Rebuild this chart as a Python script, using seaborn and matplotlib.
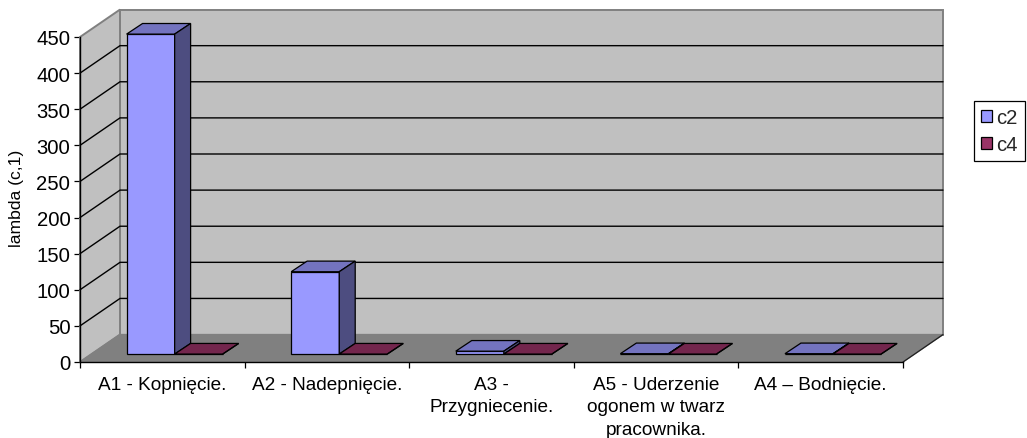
import matplotlib
matplotlib.use("Agg")
import matplotlib.pyplot as plt
from matplotlib.patches import Polygon
from matplotlib.colors import to_rgb
import pandas as pd
import seaborn as sns

categories = ["A1 - Kopnięcie.", "A2 - Nadepnięcie.", "A3 -\nPrzygniecenie.",
              "A5 - Uderzenie\nogonem w twarz\npracownika.", "A4 – Bodnięcie."]
c2_values = [443, 114, 4, 0.5, 0.5]
c4_values = [0, 0, 0, 0, 0]
y_ticks = [0, 50, 100, 150, 200, 250, 300, 350, 400, 450]
y_label = "lambda (c,1)"
series_names = ["c2", "c4"]
series_colors = ["#9999FF", "#993366"]

sns.set_theme(style="white")
plt.rcParams["font.family"] = ["Liberation Sans", "DejaVu Sans"]
FS = 13.7

W, H = 1027, 439
fig = plt.figure(figsize=(W / 100, H / 100), dpi=100, facecolor="white")
ax = fig.add_axes([80 / W, (H - 363) / H, (903 - 80) / W, (363 - 38) / H])

df = pd.DataFrame({
    "cat": categories * 2,
    "val": c2_values + c4_values,
    "series": [series_names[0]] * 5 + [series_names[1]] * 5,
})
sns.barplot(data=df, x="cat", y="val", hue="series", palette=series_colors,
            width=0.584, gap=0, saturation=1, edgecolor="black", linewidth=0.9,
            zorder=5, ax=ax)
ax.set_xlim(-0.5, 4.5)
ax.set_ylim(0, 450)
x0, x1 = ax.get_xlim()
y0, y1 = ax.get_ylim()

# depth of the fake 3-D box and of the bars, in data units
DX, DY = 0.243, 38.0
BAR_X, BAR_Y = 0.075, 11.0
BAR_DX, BAR_DY = 0.097, 14.7

wall = "#C0C0C0"
floor = "#808080"
border = "#808080"
kw = dict(clip_on=False, closed=True)
ax.add_patch(Polygon([(x0 + DX, y0 + DY), (x1 + DX, y0 + DY), (x1 + DX, y1 + DY), (x0 + DX, y1 + DY)],
                     facecolor=wall, edgecolor=border, linewidth=1.4, zorder=0.5, **kw))
ax.add_patch(Polygon([(x0, y0), (x0 + DX, y0 + DY), (x0 + DX, y1 + DY), (x0, y1)],
                     facecolor=wall, edgecolor=border, linewidth=1.4, zorder=0.6, **kw))
ax.add_patch(Polygon([(x0, y0), (x1, y0), (x1 + DX, y0 + DY), (x0 + DX, y0 + DY)],
                     facecolor=floor, edgecolor=floor, linewidth=1.0, zorder=0.7, **kw))
ax.plot([x1, x1 + DX], [y0, y0 + DY], color="#202020", lw=0.9, clip_on=False, zorder=0.8)

for t in y_ticks[1:-1]:
    ax.plot([x0, x0 + DX, x1 + DX], [t, t + DY, t + DY], color="black", lw=1.0,
            clip_on=False, zorder=1, solid_joinstyle="miter")

for i, container in enumerate(ax.containers):
    base = to_rgb(series_colors[i])
    top_c = tuple(c * 0.75 for c in base)
    side_c = tuple(c * 0.5 for c in base)
    for p in container.patches:
        p.set_x(p.get_x() + BAR_X)
        p.set_y(p.get_y() + BAR_Y)
        p.set_clip_on(False)
        l, b, w, h = p.get_x(), p.get_y(), p.get_width(), p.get_height()
        r, t = l + w, b + h
        ax.add_patch(Polygon([(l, t), (r, t), (r + BAR_DX, t + BAR_DY), (l + BAR_DX, t + BAR_DY)],
                             facecolor=top_c, edgecolor="black", linewidth=0.9, zorder=5 + i, **kw))
        ax.add_patch(Polygon([(r, b), (r + BAR_DX, b + BAR_DY), (r + BAR_DX, t + BAR_DY), (r, t)],
                             facecolor=side_c, edgecolor="black", linewidth=0.9, zorder=5 + i, **kw))

for s in ["top", "right"]:
    ax.spines[s].set_visible(False)
for s in ["left", "bottom"]:
    ax.spines[s].set_color("black")
    ax.spines[s].set_linewidth(1.0)
    ax.spines[s].set_zorder(3)

ax.set_yticks(y_ticks)
ax.set_xticks([x0 + k for k in range(6)], minor=True)
ax.set_xticks(range(5))
ax.set_xticklabels(categories, fontsize=FS, color="black", linespacing=1.42)
ax.tick_params(axis="x", which="major", length=0, pad=10)
ax.tick_params(axis="x", which="minor", bottom=True, length=4, width=0.9, color="black")
ax.tick_params(axis="y", left=True, length=4, width=0.9, color="black",
               labelsize=14.6, labelcolor="black", pad=3)
ax.set_xlabel("")
ax.set_ylabel(y_label, fontsize=12.6, color="black", labelpad=0, va="center")
ax.yaxis.set_label_coords((17 - 80) / (903 - 80), (363 - 198) / (363 - 38))

handles, labels = ax.get_legend_handles_labels()
leg = ax.legend(handles, labels, loc="upper right",
                bbox_to_anchor=(1025 / W, (H - 102) / H), bbox_transform=fig.transFigure,
                frameon=True, fancybox=False, framealpha=1, edgecolor="black",
                fontsize=14.6, handlelength=0.55, handleheight=0.55, handletextpad=0.22,
                labelspacing=0.4, borderpad=0.34, borderaxespad=0, title=None)
leg.get_frame().set_linewidth(0.9)

fig.savefig("out.png", dpi=100, facecolor="white")
